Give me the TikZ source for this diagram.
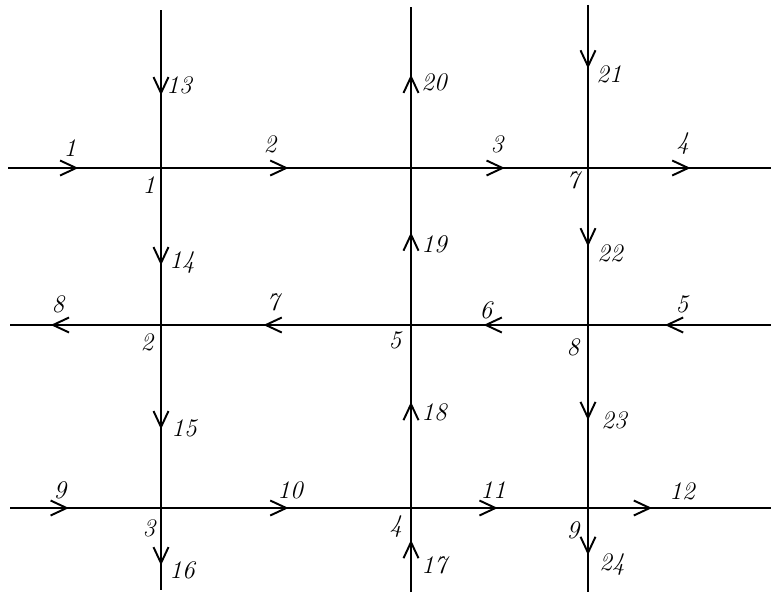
\documentclass[tikz,border=0pt]{standalone}
\usepackage{tikz}
\usetikzlibrary{arrows.meta,decorations.markings}

\begin{document}
\begin{tikzpicture}[
    wire/.style={
        line width=1.1pt,
        draw=black
    },
    mid/.style={
        postaction={decorate},
        decoration={markings,
            mark=at position #1 with {\arrow{Straight Barb[length=3.2mm,width=3mm,line width=1.1pt]}}}
    },
    mid/.default=0.55,
    lbl/.style={
        font=\Large\itshape,
        inner sep=1pt
    },
    jlbl/.style={
        font=\Large\itshape,
        inner sep=1pt
    }
]
\useasboundingbox (0,0) rectangle (15.42,11.88);

% junctions
\coordinate (n1) at (3.22,8.52);
\coordinate (n2) at (3.22,5.38);
\coordinate (n3) at (3.22,1.72);
\coordinate (n6) at (8.22,8.52);
\coordinate (n5) at (8.22,5.38);
\coordinate (n4) at (8.22,1.72);
\coordinate (n7) at (11.76,8.52);
\coordinate (n8) at (11.76,5.38);
\coordinate (n9) at (11.76,1.72);

% free ends
\coordinate (w1) at (0.16,8.52);
\coordinate (w2) at (0.20,5.38);
\coordinate (w3) at (0.20,1.72);
\coordinate (e1) at (15.42,8.52);
\coordinate (e2) at (15.42,5.38);
\coordinate (e3) at (15.42,1.72);
\coordinate (t1) at (3.22,11.68);
\coordinate (t2) at (8.22,11.74);
\coordinate (t3) at (11.76,11.78);
\coordinate (b1) at (3.22,0.08);
\coordinate (b2) at (8.22,0.04);
\coordinate (b3) at (11.76,0.04);

% horizontal branches
\draw[wire,mid=.46] (w1) -- (n1);
\draw[wire,mid=.51] (n1) -- (n6);
\draw[wire,mid=.53] (n6) -- (n7);
\draw[wire,mid=.56] (n7) -- (e1);
\draw[wire,mid=.58] (e2) -- (n8);
\draw[wire,mid=.59] (n8) -- (n5);
\draw[wire,mid=.59] (n5) -- (n2);
\draw[wire,mid=.73] (n2) -- (w2);
\draw[wire,mid=.39] (w3) -- (n3);
\draw[wire,mid=.51] (n3) -- (n4);
\draw[wire,mid=.49] (n4) -- (n9);
\draw[wire,mid=.35] (n9) -- (e3);

% vertical branches
\draw[wire,mid=.54] (t1) -- (n1);
\draw[wire,mid=.62] (n1) -- (n2);
\draw[wire,mid=.57] (n2) -- (n3);
\draw[wire,mid=.70] (n3) -- (b1);
\draw[wire,mid=.62] (b2) -- (n4);
\draw[wire,mid=.58] (n4) -- (n5);
\draw[wire,mid=.59] (n5) -- (n6);
\draw[wire,mid=.58] (n6) -- (t2);
\draw[wire,mid=.39] (t3) -- (n7);
\draw[wire,mid=.50] (n7) -- (n8);
\draw[wire,mid=.52] (n8) -- (n9);
\draw[wire,mid=.56] (n9) -- (b3);

% branch numbers
\node[lbl] (s1) at (1.40,8.92) {1};
\node[lbl] (s2) at (5.40,9.00) {2};
\node[lbl] (s3) at (9.94,9.00) {3};
\node[lbl] (s4) at (13.66,9.00) {4};
\node[lbl] (s5) at (13.64,5.80) {5};
\node[lbl] (s6) at (9.72,5.68) {6};
\node[lbl] (s7) at (5.46,5.84) {7};
\node[lbl] (s8) at (1.16,5.80) {8};
\node[lbl] (s9) at (1.20,2.08) {9};
\node[lbl] (s10) at (5.80,2.08) {10};
\node[lbl] (s11) at (9.86,2.08) {11};
\node[lbl] (s12) at (13.64,2.06) {12};
\node[lbl] (s13) at (3.58,10.18) {13};
\node[lbl] (s14) at (3.64,6.62) {14};
\node[lbl] (s15) at (3.68,3.32) {15};
\node[lbl] (s16) at (3.64,0.48) {16};
\node[lbl] (s17) at (8.68,0.58) {17};
\node[lbl] (s18) at (8.68,3.64) {18};
\node[lbl] (s19) at (8.68,7.00) {19};
\node[lbl] (s20) at (8.68,10.24) {20};
\node[lbl] (s21) at (12.18,10.40) {21};
\node[lbl] (s22) at (12.20,6.82) {22};
\node[lbl] (s23) at (12.28,3.48) {23};
\node[lbl] (s24) at (12.24,0.58) {24};

% junction numbers
\node[jlbl] (k1) at (2.98,8.18) {1};
\node[jlbl] (k2) at (2.94,5.04) {2};
\node[jlbl] (k3) at (2.98,1.32) {3};
\node[jlbl] (k4) at (7.92,1.34) {4};
\node[jlbl] (k5) at (7.90,5.08) {5};
\node[jlbl] (k7) at (11.46,8.28) {7};
\node[jlbl] (k8) at (11.46,4.94) {8};
\node[jlbl] (k9) at (11.46,1.28) {9};

\end{tikzpicture}
\end{document}
